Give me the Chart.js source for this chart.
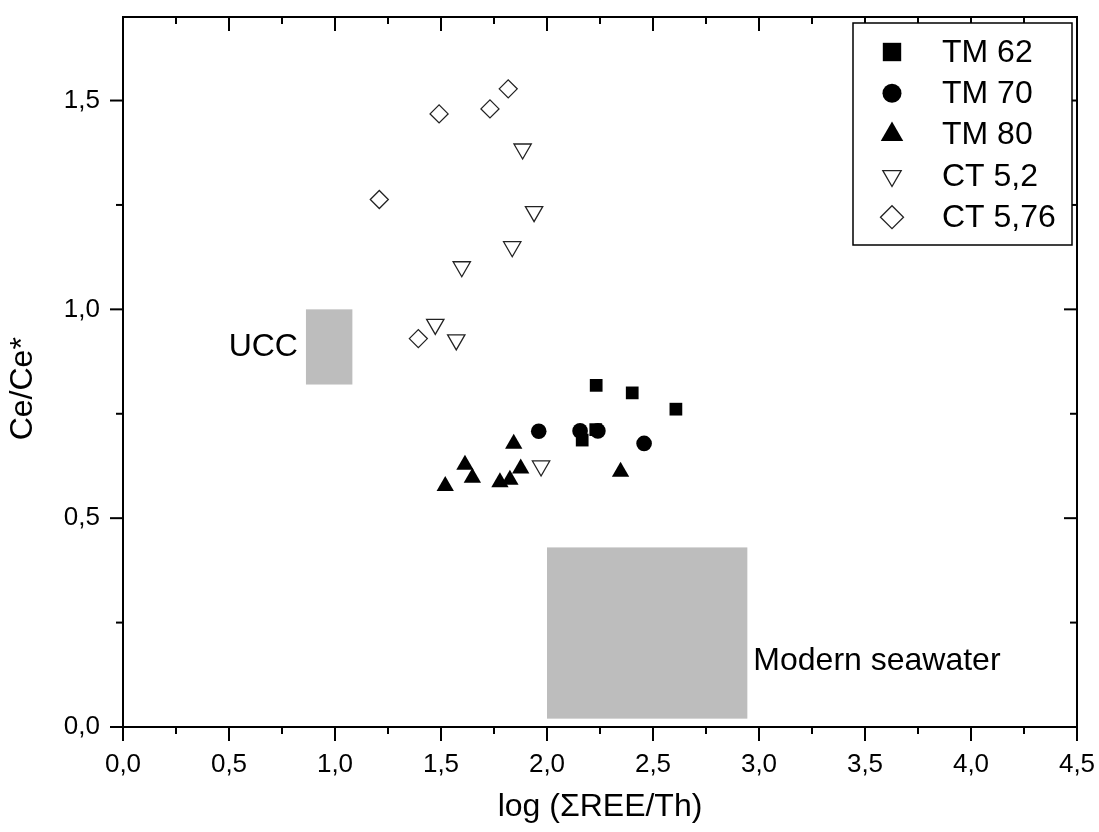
<!DOCTYPE html>
<html>
<head>
<meta charset="utf-8">
<title>Ce/Ce* vs log(ΣREE/Th)</title>
<script src="https://cdn.jsdelivr.net/npm/chart.js@4.4.1/dist/chart.umd.min.js"></script>
<style>
  html, body { margin: 0; padding: 0; background: #ffffff; }
  #wrap { width: 1099px; height: 832px; position: relative; }
  canvas { display: block; }
</style>
</head>
<body>
<div id="wrap"><canvas id="chart" width="1099" height="832"></canvas></div>
<script>
// Sample data: [log(ΣREE/Th), Ce/Ce*]
const tm62  = [[2.232, 0.818], [2.402, 0.800], [2.608, 0.761], [2.166, 0.687], [2.230, 0.712]];
const tm70  = [[1.961, 0.708], [2.156, 0.709], [2.240, 0.709], [2.458, 0.679]];
const tm80  = [[1.843, 0.678], [1.613, 0.628], [1.648, 0.597], [1.520, 0.577],
               [1.778, 0.586], [1.825, 0.592], [1.876, 0.619], [2.347, 0.611]];
const ct52  = [[1.885, 1.384], [1.939, 1.234], [1.836, 1.150], [1.598, 1.102],
               [1.473, 0.964], [1.572, 0.927], [1.972, 0.625]];
const ct576 = [[1.817, 1.528], [1.731, 1.480], [1.491, 1.468], [1.209, 1.263], [1.393, 0.930]];

const seriesNames = ['TM 62', 'TM 70', 'TM 80', 'CT 5,2', 'CT 5,76'];

// Reference fields: [xMin, xMax, yMin, yMax]
const uccField      = [0.863, 1.082, 0.82, 1.00];
const seawaterField = [2.00, 2.945, 0.02, 0.43];
const fieldLabels   = ['UCC', 'Modern seawater'];

// Axis ranges, ticks and titles
const xRange = [0, 4.5];
const yRange = [0, 1.7];
const xMajor = [0, 0.5, 1.0, 1.5, 2.0, 2.5, 3.0, 3.5, 4.0, 4.5];
const xMinor = [0.25, 0.75, 1.25, 1.75, 2.25, 2.75, 3.25, 3.75, 4.25];
const yMajor = [0, 0.5, 1.0, 1.5];
const yMinor = [0.25, 0.75, 1.25];
const xTitle = 'log (ΣREE/Th)';
const yTitle = 'Ce/Ce*';

const FONT = "'Liberation Sans', Arial, Helvetica, sans-serif";
const toPts = arr => arr.map(p => ({ x: p[0], y: p[1] }));
const comma = v => Number(v).toFixed(1).replace('.', ',');

const styles = [
  { pointStyle: 'rect',     rotation: 0,   radius: 9,   bg: '#000', border: '#000', bw: 0,   legendRadius: 13 },
  { pointStyle: 'circle',   rotation: 0,   radius: 7.8, bg: '#000', border: '#000', bw: 0,   legendRadius: 9.5 },
  { pointStyle: 'triangle', rotation: 0,   radius: 10,  bg: '#000', border: '#000', bw: 0,   legendRadius: 13 },
  { pointStyle: 'triangle', rotation: 180, radius: 10,  bg: '#fff', border: '#222', bw: 1.3, legendRadius: 10.6 },
  { pointStyle: 'rectRot',  rotation: 0,   radius: 9,   bg: '#fff', border: '#222', bw: 1.3, legendRadius: 11.5 }
];
const seriesData = [tm62, tm70, tm80, ct52, ct576];

const datasets = seriesData.map((d, i) => ({
  label: seriesNames[i],
  data: toPts(d),
  pointStyle: styles[i].pointStyle,
  rotation: styles[i].rotation,
  pointRadius: styles[i].radius,
  pointHoverRadius: styles[i].radius,
  backgroundColor: styles[i].bg,
  borderColor: styles[i].border,
  borderWidth: styles[i].bw,
  showLine: false
}));

// Grey reference fields with their captions
const fieldsPlugin = {
  id: 'fields',
  beforeDatasetsDraw(chart) {
    const { ctx, scales: { x, y } } = chart;
    ctx.save();
    ctx.fillStyle = '#bdbdbd';
    [uccField, seawaterField].forEach(f => {
      const l = x.getPixelForValue(f[0]), r = x.getPixelForValue(f[1]);
      const t = y.getPixelForValue(f[3]), b = y.getPixelForValue(f[2]);
      ctx.fillRect(l, t, r - l, b - t);
    });
    ctx.fillStyle = '#000';
    ctx.font = `32px ${FONT}`;
    // UCC: to the left of its field, vertically centred
    ctx.textAlign = 'right';
    ctx.textBaseline = 'middle';
    ctx.fillText(fieldLabels[0],
      x.getPixelForValue(uccField[0]) - 8,
      (y.getPixelForValue(uccField[2]) + y.getPixelForValue(uccField[3])) / 2);
    // Modern seawater: to the right of its field, near the bottom
    ctx.textAlign = 'left';
    ctx.textBaseline = 'alphabetic';
    ctx.fillText(fieldLabels[1], x.getPixelForValue(seawaterField[1]) + 6, y.getPixelForValue(0.136));
    ctx.restore();
  }
};

// Plot frame with major/minor ticks on all four sides, plus the vertical axis title
const framePlugin = {
  id: 'frame',
  afterDatasetsDraw(chart) {
    const { ctx, chartArea: a, scales: { x, y } } = chart;
    ctx.save();
    ctx.strokeStyle = '#000';
    ctx.lineWidth = 2;
    ctx.strokeRect(a.left, a.top, a.right - a.left, a.bottom - a.top);
    const tick = (x1, y1, x2, y2) => { ctx.beginPath(); ctx.moveTo(x1, y1); ctx.lineTo(x2, y2); ctx.stroke(); };
    const MAJ = 14, MIN = 7;
    xMajor.forEach(v => { const px = x.getPixelForValue(v); tick(px, a.bottom, px, a.bottom + MAJ); tick(px, a.top, px, a.top + MAJ); });
    xMinor.forEach(v => { const px = x.getPixelForValue(v); tick(px, a.bottom, px, a.bottom + MIN); tick(px, a.top, px, a.top + MIN); });
    yMajor.forEach(v => { const py = y.getPixelForValue(v); tick(a.left, py, a.left - 13, py); tick(a.right, py, a.right - 13, py); });
    yMinor.forEach(v => { const py = y.getPixelForValue(v); tick(a.left, py, a.left - MIN, py); tick(a.right, py, a.right - MIN, py); });

    ctx.translate(23, y.getPixelForValue(0.81));
    ctx.rotate(-Math.PI / 2);
    ctx.fillStyle = '#000';
    ctx.font = `32px ${FONT}`;
    ctx.textAlign = 'center';
    ctx.textBaseline = 'middle';
    ctx.fillText(yTitle, 0, 0);
    ctx.restore();
  }
};

// Boxed legend in the upper-right corner of the plot
const legendPlugin = {
  id: 'boxLegend',
  afterDraw(chart) {
    const { ctx } = chart;
    const box = { left: 853, top: 23, right: 1072, bottom: 245 };
    ctx.save();
    ctx.fillStyle = '#fff';
    ctx.fillRect(box.left, box.top, box.right - box.left, box.bottom - box.top);
    ctx.strokeStyle = '#000';
    ctx.lineWidth = 1.5;
    ctx.strokeRect(box.left, box.top, box.right - box.left, box.bottom - box.top);
    const rowY0 = 52, rowStep = 41.3, markX = 892, textX = 942;
    chart.data.datasets.forEach((ds, i) => {
      const yy = rowY0 + i * rowStep;
      const s = styles[i];
      ctx.fillStyle = s.bg;
      ctx.strokeStyle = s.border;
      ctx.lineWidth = s.bw;
      Chart.helpers.drawPoint(ctx, { pointStyle: s.pointStyle, rotation: s.rotation, radius: s.legendRadius, borderWidth: s.bw }, markX, yy);
      ctx.fillStyle = '#000';
      ctx.font = `32px ${FONT}`;
      ctx.textAlign = 'left';
      ctx.textBaseline = 'middle';
      ctx.fillText(ds.label, textX, yy + 1);
    });
    ctx.restore();
  }
};

const keepHalfSteps = scale => {
  scale.ticks = scale.ticks.filter(t => Math.abs(t.value * 2 - Math.round(t.value * 2)) < 1e-9);
};
const noEdgePadding = s => {
  s.paddingLeft = 0; s.paddingRight = 0; s.paddingTop = 0; s.paddingBottom = 0;
};

new Chart(document.getElementById('chart'), {
  type: 'scatter',
  data: { datasets },
  options: {
    responsive: false,
    animation: false,
    devicePixelRatio: 1,
    events: [],
    layout: { padding: { left: 0, right: 22, top: 17, bottom: 0 } },
    plugins: { legend: { display: false }, tooltip: { enabled: false } },
    scales: {
      x: {
        type: 'linear', min: xRange[0], max: xRange[1],
        grid: { display: false, drawTicks: false, tickLength: 0 },
        border: { display: false },
        ticks: { stepSize: 0.5, padding: 22, color: '#000', font: { family: FONT, size: 26 }, callback: v => comma(v), maxRotation: 0 },
        afterBuildTicks: keepHalfSteps,
        afterFit: s => { s.height = 105; noEdgePadding(s); },
        title: { display: true, text: xTitle, color: '#000', font: { family: FONT, size: 32 }, padding: { top: 0, bottom: 6 } }
      },
      y: {
        type: 'linear', min: yRange[0], max: yRange[1],
        grid: { display: false, drawTicks: false, tickLength: 0 },
        border: { display: false },
        ticks: { stepSize: 0.5, padding: 23, color: '#000', font: { family: FONT, size: 26 }, callback: v => comma(v) },
        afterBuildTicks: keepHalfSteps,
        afterFit: s => { s.width = 123; noEdgePadding(s); },
        title: { display: false }
      }
    }
  },
  plugins: [fieldsPlugin, framePlugin, legendPlugin]
});
</script>
</body>
</html>
